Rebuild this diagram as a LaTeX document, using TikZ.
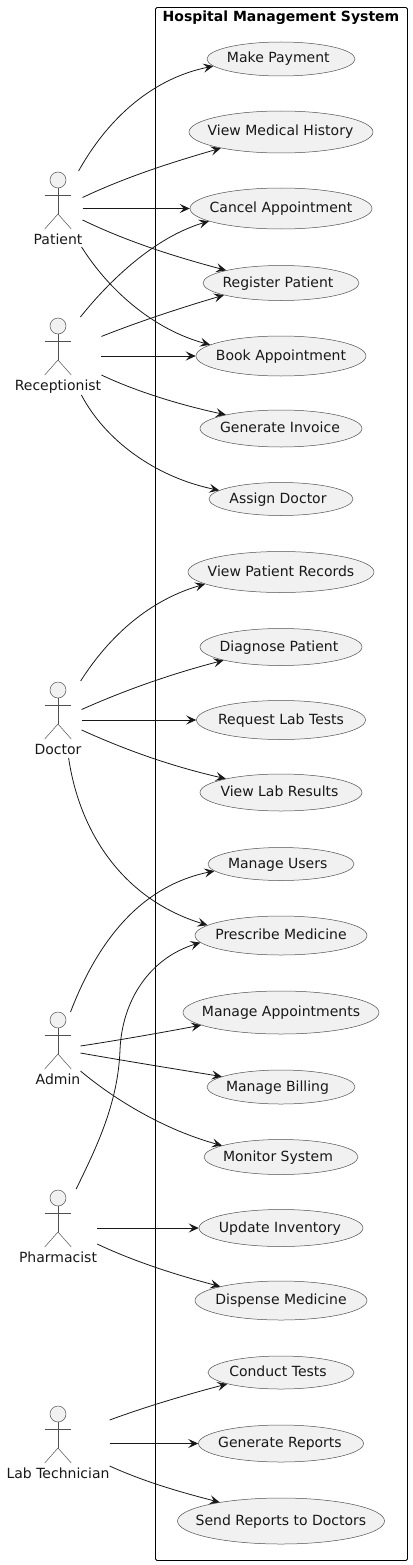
\documentclass[tikz,border=0pt]{standalone}
\usepackage{fontspec}
\setmainfont{DejaVu Sans}
\usetikzlibrary{shapes.geometric,arrows.meta}

\definecolor{inkdark}{HTML}{181818}
\definecolor{inkthin}{HTML}{505050}
\definecolor{usefill}{HTML}{F1F1F1}

\newcommand{\casetext}[2]{\raisebox{-4pt}[0pt][0pt]{\makebox[0pt]{\hspace*{-#1pt}#2\hspace*{#1pt}}}}

\tikzset{
  usecase/.style={ellipse,draw=inkthin,fill=usefill,line width=0.5pt,inner sep=0pt,text=inkdark,font=\fontsize{14}{16}\selectfont},
  person/.style={text height=10pt,text depth=3pt,inner sep=0pt,text=inkdark,font=\fontsize{14}{16}\selectfont},
  figline/.style={draw=inkthin,line width=0.5pt},
  flow/.style={draw=inkdark,line width=0.8pt,-{Stealth[length=10pt,width=9pt,inset=4pt]}}
}

\begin{document}
\begin{tikzpicture}[x=1pt,y=-1pt]
  \useasboundingbox (0,0) rectangle (412,1565);

  % system boundary
  \node[draw=black,line width=0.9pt,rounded corners=1.5pt,minimum width=252pt,minimum height=1553pt,inner sep=0pt] (hms) at (281.5,784) {};
  \node[font=\bfseries\fontsize{14}{16}\selectfont,inner sep=0pt] (hmstitle) at (281,18) {Hospital Management System};

  % use cases
  \node[usecase,minimum width=148pt,minimum height=34pt] (pay) at (281,59) {\casetext{2.7}{Make Payment}};
  \node[usecase,minimum width=184pt,minimum height=42pt] (hist) at (281,132) {\casetext{0.5}{View Medical History}};
  \node[usecase,minimum width=182pt,minimum height=41pt] (cancel) at (281,208.5) {\casetext{0}{Cancel Appointment}};
  \node[usecase,minimum width=156pt,minimum height=35pt] (reg) at (281,283) {\casetext{3}{Register Patient}};
  \node[usecase,minimum width=170pt,minimum height=40pt] (book) at (281,356) {\casetext{0}{Book Appointment}};
  \node[usecase,minimum width=162pt,minimum height=37pt] (invoice) at (281,428.5) {\casetext{1}{Generate Invoice}};
  \node[usecase,minimum width=144pt,minimum height=33pt] (assign) at (281,499) {\casetext{3}{Assign Doctor}};
  \node[usecase,minimum width=186pt,minimum height=41pt] (records) at (281,572) {\casetext{0}{View Patient Records}};
  \node[usecase,minimum width=162pt,minimum height=37pt] (diagnose) at (281,647) {\casetext{2}{Diagnose Patient}};
  \node[usecase,minimum width=169pt,minimum height=39pt] (request) at (281,720) {\casetext{0}{Request Lab Tests}};
  \node[usecase,minimum width=162pt,minimum height=37pt] (results) at (281,792.5) {\casetext{1.5}{View Lab Results}};
  \node[usecase,minimum width=146pt,minimum height=33pt] (users) at (281,864) {\casetext{3.3}{Manage Users}};
  \node[usecase,minimum width=172pt,minimum height=39pt] (prescribe) at (281,935.5) {\casetext{0}{Prescribe Medicine}};
  \node[usecase,minimum width=196pt,minimum height=43pt] (appts) at (281,1012.5) {\casetext{0}{Manage Appointments}};
  \node[usecase,minimum width=148pt,minimum height=34pt] (billing) at (281,1087) {\casetext{3.5}{Manage Billing}};
  \node[usecase,minimum width=154pt,minimum height=35pt] (monitor) at (281,1157) {\casetext{3}{Monitor System}};
  \node[usecase,minimum width=164pt,minimum height=37pt] (update) at (281,1228) {\casetext{1}{Update Inventory}};
  \node[usecase,minimum width=172pt,minimum height=39pt] (dispense) at (281,1300.5) {\casetext{0}{Dispense Medicine}};
  \node[usecase,minimum width=146pt,minimum height=33pt] (conduct) at (281,1372.5) {\casetext{3}{Conduct Tests}};
  \node[usecase,minimum width=165pt,minimum height=37pt] (reports) at (281,1443.5) {\casetext{1}{Generate Reports}};
  \node[usecase,minimum width=207pt,minimum height=46pt] (send) at (281,1521) {\casetext{0}{Send Reports to Doctors}};

  % actors
  \node[person] (patient) at (58,241) {Patient};
  \node[person] (recept) at (58,387) {Receptionist};
  \node[person] (doctor) at (58,751) {Doctor};
  \node[person] (admin) at (58,1081) {Admin};
  \node[person] (pharm) at (58,1259) {Pharmacist};
  \node[person] (labtech) at (58,1475) {Lab Technician};

  \foreach \who in {patient,recept,doctor,admin,pharm,labtech} {
    \draw[figline,fill=usefill] ([shift={(0,-61)}]\who.center) circle (8pt);
    \draw[figline] ([shift={(0,-53)}]\who.center) -- ([shift={(0,-27)}]\who.center);
    \draw[figline] ([shift={(-13.3,-46)}]\who.center) -- ([shift={(13.3,-46)}]\who.center);
    \draw[figline] ([shift={(-13.3,-12)}]\who.center) -- ([shift={(0,-27)}]\who.center) -- ([shift={(13.3,-12)}]\who.center);
  }

  % patient
  \draw[flow] ([shift={(-4,-70)}]patient.east) .. controls (110,115) and (155,78) .. (pay.186);
  \draw[flow] ([shift={(0,-43.5)}]patient.east) .. controls (130,175) and (180,160) .. (hist.195);
  \draw[flow] ([shift={(0,-32.5)}]patient.east) -- (cancel.west);
  \draw[flow] ([shift={(0,-21)}]patient.east) .. controls (130,243) and (180,258) .. (reg.167);
  \draw[flow] ([shift={(-1,6)}]patient.east) .. controls (110,292) and (155,330) .. (book.171);

  % receptionist
  \draw[flow] ([shift={(-21,-70)}]recept.east) .. controls (110,280) and (155,237) .. (cancel.190);
  \draw[flow] ([shift={(0,-50.5)}]recept.east) .. controls (135,323) and (180,308) .. (reg.192.5);
  \draw[flow] ([shift={(0,-31)}]recept.east) -- (book.west);
  \draw[flow] ([shift={(0,-12)}]recept.east) .. controls (135,391) and (180,405) .. (invoice.166.5);
  \draw[flow] ([shift={(-20,8)}]recept.east) .. controls (105,440) and (155,477) .. (assign.172);

  % doctor
  \draw[flow] ([shift={(-1,-70)}]doctor.east) .. controls (110,635) and (150,600) .. (records.189.3);
  \draw[flow] ([shift={(0,-41.5)}]doctor.east) .. controls (130,688) and (175,673) .. (diagnose.193);
  \draw[flow] ([shift={(0,-31)}]doctor.east) -- (request.west);
  \draw[flow] ([shift={(0,-21)}]doctor.east) .. controls (130,752) and (175,767) .. (results.166.5);
  \draw[flow] ([shift={(-13,7)}]doctor.east) .. controls (80,835) and (125,900) .. (prescribe.172.5);

  % admin
  \draw[flow] ([shift={(-10,-69)}]admin.east) .. controls (100,935) and (145,885) .. (users.186);
  \draw[flow] ([shift={(0,-35)}]admin.east) .. controls (120,1040) and (165,1032) .. (appts.189.8);
  \draw[flow] ([shift={(0,-28)}]admin.east) .. controls (120,1060) and (175,1069) .. (billing.170.7);
  \draw[flow] ([shift={(0,-10)}]admin.east) .. controls (115,1100) and (165,1130) .. (monitor.169.8);

  % pharmacist
  \draw[flow] ([shift={(-21,-70)}]pharm.east) .. controls (95,1150) and (118,1105) .. (120,1050) .. controls (122,1000) and (150,958) .. (prescribe.185.5);
  \draw[flow] ([shift={(0,-31)}]pharm.east) -- (update.west);
  \draw[flow] ([shift={(0,-15)}]pharm.east) .. controls (135,1262) and (180,1276) .. (dispense.167);

  % lab technician
  \draw[flow] ([shift={(0,-55)}]labtech.east) .. controls (145,1407) and (185,1395) .. (conduct.192);
  \draw[flow] ([shift={(0,-31.5)}]labtech.east) -- (reports.west);
  \draw[flow] ([shift={(0,-9)}]labtech.east) .. controls (145,1482) and (180,1492) .. (send.163);
\end{tikzpicture}
\end{document}
